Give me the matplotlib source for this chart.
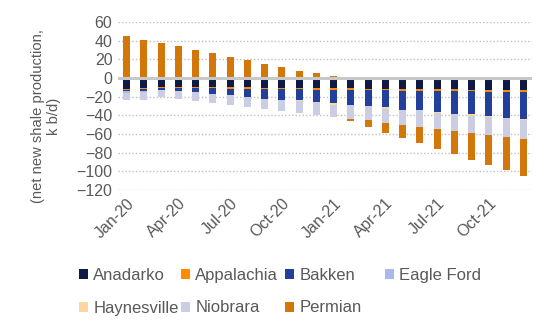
import matplotlib
matplotlib.use("Agg")
import matplotlib.pyplot as plt
import numpy as np
import pandas as pd

plt.rcParams["font.family"] = ["Liberation Sans", "DejaVu Sans"]

months = pd.date_range("2020-01-01", "2021-12-01", freq="MS")
labels = [m.strftime("%b-%y") for m in months]

basins = ["Anadarko", "Appalachia", "Bakken", "Eagle Ford",
          "Haynesville", "Niobrara", "Permian"]
colors = ["#0e1a45", "#ff8c00", "#22409b", "#a9b9ea",
          "#fdd59e", "#cbcde2", "#d4770a"]

anadarko = [-12.2, -11.1, -10.0, -10.0, -10.0, -10.0, -9.7, -9.7, -11.1, -11.1, -11.1, -11.1,
            -11.1, -11.1, -12.2, -12.2, -12.2, -12.2, -12.2, -12.2, -13.3, -13.3, -13.3, -13.3]
appalachia = [-1.1, -0.7, -1.1, -1.1, -1.1, -1.1, -2.5, -2.5, -1.1, -1.1, -1.1, -2.2,
              -2.2, -2.2, -1.1, -1.1, -2.2, -2.2, -2.2, -2.2, -1.1, -2.2, -2.2, -2.2]
bakken = [-0.5, -2.2, -1.4, -3.2, -4.3, -6.1, -6.5, -7.9, -10.0, -11.1, -11.8, -12.9,
          -14.0, -16.1, -17.2, -18.3, -19.4, -20.4, -21.5, -23.7, -24.7, -24.7, -26.9, -28.0]
eagle_ford = [-2.0, -1.4, -0.7, 0, 0, 0, 0, 0, 0, 0, 0, 0,
              0, 0, 0, 0, 0, 0, 0, 0, 0, 0, 0, 0]
haynesville = [0, 0, 0, 0, 0, 0, 0, 0, 0, 0, -0.5, 0,
               -1.1, 0, 0, -1.1, 0, 0, -1.1, 0, -1.1, -1.1, 0, -1.1]
niobrara = [-7.9, -8.3, -7.2, -8.6, -9.3, -9.7, -10.7, -11.4, -11.5, -12.5, -13.5, -13.3,
            -12.9, -14.0, -15.0, -15.0, -16.1, -17.2, -17.2, -18.3, -18.3, -19.4, -20.4, -20.4]
permian = [45.5, 41.2, 37.9, 34.7, 30.4, 27.2, 22.9, 19.7, 15.4, 12.2, 7.9, 5.0,
           1.8, -3.2, -6.5, -10.8, -14.0, -17.2, -21.5, -24.7, -29.0, -32.3, -35.5, -39.8]

series = [anadarko, appalachia, bakken, eagle_ford, haynesville, niobrara, permian]

W, H = 556, 334
fig = plt.figure(figsize=(W / 100, H / 100), dpi=100)
ax = fig.add_axes([118 / W, 1 - 190 / H, 414 / W, 168 / H])

x = np.arange(len(labels))
pos_base = np.zeros(len(x))
neg_base = np.zeros(len(x))
handles = []
for name, vals, c in zip(basins, series, colors):
    v = np.array(vals, dtype=float)
    bottom = np.where(v >= 0, pos_base, neg_base)
    h = ax.bar(x, v, 0.42, bottom=bottom, color=c, label=name, zorder=3)
    handles.append(h)
    pos_base += np.clip(v, 0, None)
    neg_base += np.clip(v, None, 0)

ax.set_xlim(-0.5, len(x) - 0.5)
ax.set_ylim(-120, 60)
ax.set_yticks(range(-120, 61, 20))
ax.yaxis.grid(True, color="#bfbfbf", ls=(0, (1, 1.5)), lw=1, zorder=0)
ax.axhline(0, color="#c8c8c8", lw=2.2, zorder=4)
for s in ax.spines.values():
    s.set_visible(False)
ax.tick_params(length=0, labelsize=11.5, colors="#595959", pad=4)
ax.set_xticks(x[::3])
ax.set_xticklabels(labels[::3], rotation=45, ha="right", rotation_mode="anchor")

fig.text(46 / W, 1 - 116 / H, "(net new shale production,\nk b/d)", rotation=90,
         ha="center", va="center", multialignment="center",
         fontsize=10.6, color="#595959")

# legend laid out like the source: four equal columns, two rows
cols = [[0, 4], [1, 5], [2, 6], [3]]
col_x = [79, 181, 285, 385]
for idx, cx in zip(cols, col_x):
    leg = fig.legend([handles[i] for i in idx], [basins[i] for i in idx],
                     loc="upper left", bbox_to_anchor=(cx / W, 1 - 268 / H),
                     frameon=False, fontsize=12, handlelength=0.55, handleheight=0.55,
                     handletextpad=0.3, labelspacing=1.05, borderaxespad=0,
                     borderpad=0)
    for t in leg.get_texts():
        t.set_color("#595959")

fig.savefig("out.png", dpi=100)
